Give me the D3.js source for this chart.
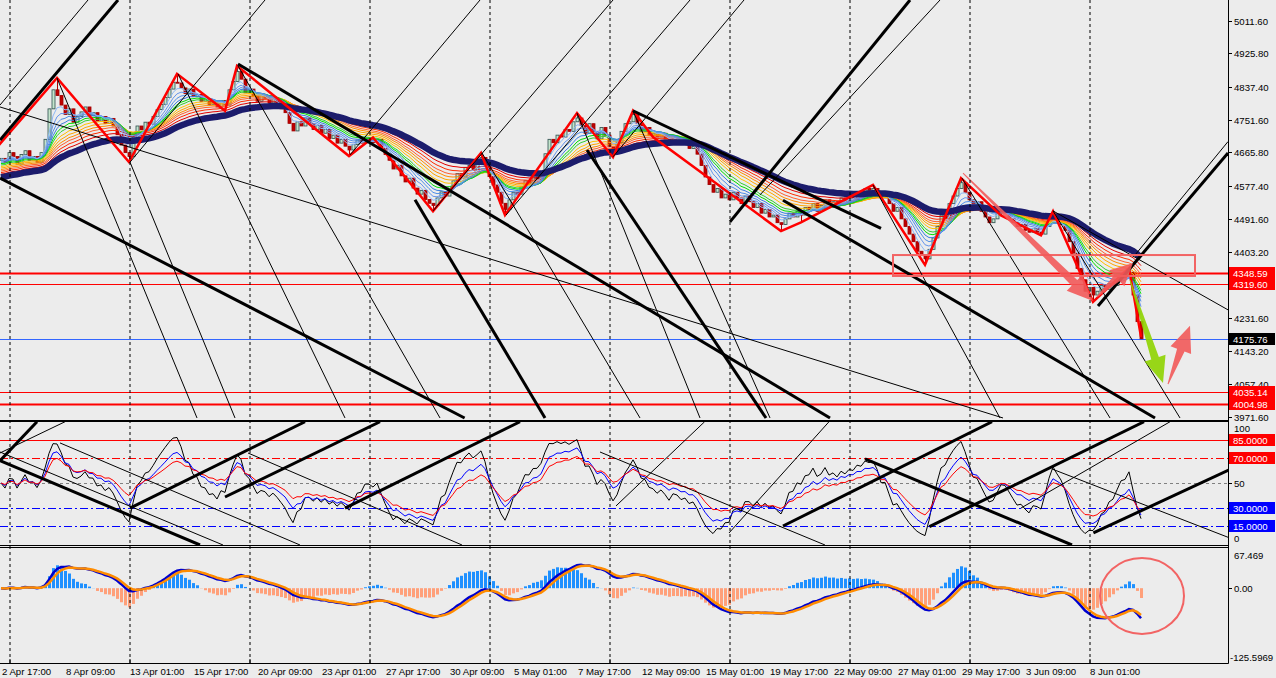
<!DOCTYPE html>
<html>
  <head>
    <meta charset="UTF-8" />
    <title>H4 chart</title>
    <script src="https://cdn.jsdelivr.net/npm/d3@7"></script>
    <style>
      body { margin: 0; background: #ececec; }
      text { font-family: "Liberation Sans", Arial, sans-serif; font-size: 9.6px; }
    </style>
  </head>
  <body>
    <svg id="chart" width="1276" height="678"></svg>
    <script>
      // ---- data ----
      let closes = [
        4650,4640,4665,4655,4635,4660,4670,4645,4655,4640,4665,
        4700,4780,4830,4815,
        4790,4765,4780,4745,4760,4772,4785,4762,4770,4748,4760,4742,4755,4735,4712,4685,4665,4655,
        4705,4735,4725,4745,4740,4760,4778,4792,4810,4832,4850,4848,
        4835,4820,4832,4812,4818,4800,4806,4792,4798,4785,4802,4790,
        4830,4852,4878,4858,4822,4832,4815,4800,4816,4808,4795,4806,4790,
        4780,4770,4742,4722,4746,4735,4756,4741,4726,4736,4716,4726,4702,4711,4690,4700,4682,4672,
        4686,4698,4690,4704,4697,4692,4700,
        4676,4660,4645,4622,4632,4604,4588,4598,4572,4556,4566,4542,4532,4526,
        4546,4562,4551,4576,4591,4610,4601,4626,4631,4621,4642,4652,
        4632,4602,4580,4561,4532,4516,
        4541,4561,4556,4576,4591,4581,4601,4596,4611,4662,4700,4691,4711,4706,4726,4721,4746,4756,
        4736,4716,4741,4721,4701,4731,4711,4681,4666,
        4691,4721,4741,4746,4765,
        4741,4721,4731,4711,4716,
        4706,4716,4701,4691,4706,4696,4686,4691,4676,4681,4661,4631,4601,4581,4561,4571,4546,4556,4541,4561,
        4546,4531,4551,4536,4521,4531,4506,4516,4496,4501,4481,4476,
        4491,4506,4496,4511,4501,4521,4516,4531,4511,4526,4541,4521,4536,4526,4546,4536,4551,4546,4561,4556,4571,4566,4571,
        4561,4546,4556,4531,4511,4521,4491,4471,4451,4431,4406,4396,4386,
        4411,4441,4471,4501,4491,4531,4551,4571,4586,
        4561,4541,4521,4536,4511,4496,4481,4491,4506,4516,
        4506,4491,4481,4471,4476,4461,4456,4466,4456,4451,4471,4491,4501,
        4481,4476,4461,4431,4401,4361,4331,4301,4311,4291,4301,4316,4306,4321,4316,4331,4341,4336,4351,4291,4221,4176
      ];
      let firstOpen = 4645;

      // zigzag pivots [bar, price]
      let zigzag = [
        [-3,4655],[14,4861],[32,4640],[44,4872],[56,4775],[59,4893],[87,4656],[93,4705],
        [108,4511],[120,4664],[126,4501],[144,4769],[153,4653],[158,4775],[163,4706],
        [195,4459],[200,4482],[218,4580],[231,4370],[240,4598],[250,4500],[260,4448],
        [263,4511],[273,4273],[282,4362],[285,4181]
      ];

      let ribbonPeriods = [4,6,8,10,12,14,17,20,23,26,30,35];
      let ribbonColors = ["#8cb8f5","#6495ed","#4f8fe8","#3a7fe0","#00e000","#33cc33",
                          "#ffc000","#ffa500","#ff8c00","#ff6030","#ff2a00","#e00000"];
      let ribbonSeed = [4648,4645,4642,4638,4634,4630,4626,4622,4618,4614,4610,4606];
      let navyPeriod = 45;
      let navySeed = 4598;

      let priceTicks = [5011.6,4925.8,4837.4,4751.6,4665.8,4577.4,4491.6,4403.2,4317.4,4231.6,4143.2,4057.4,3971.6];
      let levelPrices = [4348.59, 4319.60, 4175.76, 4035.14, 4004.98];
      let levelColors = ["#ff0000","#ff0000","#3366ff","#ff0000","#ff0000"];
      let levelWidths = [2, 1, 1, 1, 2];
      let levelBoxes = ["#ff0000","#ff0000","#000000","#ff0000","#ff0000"];

      let timeLabels = ["2 Apr 17:00","8 Apr 09:00","13 Apr 01:00","15 Apr 17:00","20 Apr 09:00",
        "23 Apr 01:00","27 Apr 17:00","30 Apr 09:00","5 May 01:00","7 May 17:00","12 May 09:00",
        "15 May 01:00","19 May 17:00","22 May 09:00","27 May 01:00","29 May 17:00","3 Jun 09:00","8 Jun 01:00"];
      let labelStep = 16;
      let sepBars = [2.125,32.125,62.125,92.125,122.125,152.125,182.125,212.125,242.125,272.125];

      // trend lines in the price window [bar1, price1, bar2, price2, width]
      let mainLines = [
        // thick
        [-0.25,4698,29.25,5066,3],
        [-0.25,4598,115.9,3968,3],
        [59.25,4898,207.25,3968,3],
        [103.5,4541,136,3968,3],
        [146.5,4672,191.25,3968,3],
        [158,4775,220,4466,3],
        [195.5,4540,288.5,3968,3],
        [182.25,4483,227.25,5066,3],
        [274.25,4262,306.75,4664,3],
        // thin descending
        [-0.25,4785,250.5,3968,1],
        [14,4861,49,3968,1],
        [32.25,4640,58.5,3968,1],
        [44.25,4872,86,3968,1],
        [59.25,4893,109.75,3968,1],
        [120.25,4664,159.75,3968,1],
        [144,4769,174.75,3968,1],
        [158,4774,192.25,3968,1],
        [218,4580,249.75,3968,1],
        [240.25,4598,277.25,3968,1],
        [263,4512,294.75,3968,1],
        [263,4512,306.75,4252,1],
        // thin ascending
        [-0.25,4790,21.75,5066,1],
        [32.25,4640,66,5066,1],
        [87.25,4659,119.75,5066,1],
        [108,4512,153,5066,1],
        [126.25,4501,172.25,5066,1],
        [153,4654,185.75,5066,1],
        [189.75,4554,234.75,5066,1],
        [283.5,4396,306.75,4694,1]
      ];

      // rsi window lines [bar1, v1, bar2, v2, width]
      let rsiLines = [
        [-0.25,68,9,99.4,3],[-0.25,74.2,16,99.4,1],[32.25,29.8,76,99.4,3],[56,38.7,94.75,99.4,3],
        [86,29.8,129.75,99.4,3],[195.5,15.3,247.75,99.4,3],[232.1,14.8,285.75,99.4,3],
        [273.1,9.7,307.25,61,3],[-0.25,68,49.75,0,3],[-0.25,75,55.5,0,1],[14.75,82.3,74.75,0,1],
        [61.75,74.2,115.25,0,1],[216,69.4,267.75,0,3],[153.75,31.5,175.9,99.4,1],
        [149.75,75,206,0,1],[262.75,61.3,307.25,5.6,1],[182,9.7,207,99.4,1],[255,29.8,292.25,99.4,1]
      ];

      // arrows [bar1, price1, bar2(tip), price2(tip), colour]
      let arrows = [
        [240.5,4611,273,4275,"#f25a5a"],
        [274,4286,283,4375,"#f25a5a"],
        [282.25,4330,290.5,4060,"#8fd400"],
        [291.75,4057,297.25,4210,"#f25a5a"]
      ];
      let zoneBox = [223, 4396, 298.5, 4341];
      let macdCircle = [285.25, -13];

      let rsiPeriods = [5, 9, 14];
      let rsiSmooth = 3;
      let rsiColors = ["#000000", "#0000ff", "#ff0000"];
      let rsiLevels = [85, 70, 50, 30, 15];
      let rsiLevelColors = ["#ff0000","#ff0000","#808080","#0000ff","#0000ff"];
      let rsiLevelDash = ["none","8,3,2,3","3,3","8,3,2,3","8,3,2,3"];
      let rsiLevelBox = ["#ff0000","#ff0000",null,"#0000ff","#0000ff"];

      let macdFast = 12, macdSlow = 26, macdSignal = 3, osmaSignal = 9, osmaScale = 2;
      let macdRange = [-125.5969, 67.469];

      // ---- layout ----
      let W = 1276, H = 678, plotR = 1228;
      let svg = d3.select("#chart");
      svg.append("rect").attr("width", W).attr("height", H).attr("fill", "#ececec");

      let n = closes.length;
      let x = d3.scaleLinear().domain([0, n - 1]).range([1, 1141]);
      let y = d3.scaleLinear().domain([3971.6, 5011.6]).range([416.6, 20.7]);
      let yr = d3.scaleLinear().domain([0, 100]).range([545, 421]);
      let ym = d3.scaleLinear().domain(macdRange).range([663, 548]);

      let defs = svg.append("defs");
      [["cMain", 0, 420], ["cRsi", 421.5, 124], ["cMacd", 547.5, 116]].forEach(([id, top, h]) => {
        defs.append("clipPath").attr("id", id).append("rect")
          .attr("x", 0).attr("y", top).attr("width", plotR).attr("height", h);
      });

      let gMain = svg.append("g").attr("clip-path", "url(#cMain)");
      let gRsi = svg.append("g").attr("clip-path", "url(#cRsi)");
      let gMacd = svg.append("g").attr("clip-path", "url(#cMacd)");

      // week separators
      sepBars.forEach((b) => {
        svg.append("line").attr("x1", x(b) + 0.5).attr("x2", x(b) + 0.5)
          .attr("y1", 0).attr("y2", 663).attr("stroke", "#000")
          .attr("stroke-dasharray", "3,3").attr("stroke-width", 1);
      });

      // horizontal levels
      levelPrices.forEach((p, i) => {
        gMain.append("line").attr("x1", 0).attr("x2", plotR)
          .attr("y1", Math.round(y(p)) + 0.5).attr("y2", Math.round(y(p)) + 0.5)
          .attr("stroke", levelColors[i]).attr("stroke-width", levelWidths[i]);
      });

      // candles
      let opens = closes.map((c, i) => (i === 0 ? firstOpen : closes[i - 1]));
      let highs = closes.map((c, i) => Math.max(c, opens[i]));
      let lows = closes.map((c, i) => Math.min(c, opens[i]));
      zigzag.forEach(([b, p]) => {
        if (b < 0 || b >= n) return;
        if (p > highs[b]) highs[b] = p;
        if (p < lows[b]) lows[b] = p;
      });
      let candles = gMain.append("g");
      closes.forEach((c, i) => {
        let up = c >= opens[i];
        let cx = Math.round(x(i)) + 0.5;
        candles.append("line").attr("x1", cx).attr("x2", cx)
          .attr("y1", y(highs[i])).attr("y2", y(lows[i]))
          .attr("stroke", up ? "#2f4f4f" : "#b00000");
        let top = y(Math.max(c, opens[i])), bot = y(Math.min(c, opens[i]));
        candles.append("rect").attr("x", cx - 1.5).attr("y", top)
          .attr("width", 3).attr("height", Math.max(1, bot - top))
          .attr("fill", up ? "#c4e4cc" : "#c00000")
          .attr("stroke", up ? "#2f4f4f" : "#a00000").attr("stroke-width", 0.8);
      });

      // moving average ribbon
      function ema(src, period, seed) {
        let k = 2 / (period + 1), v = seed;
        return src.map((c) => (v = v + k * (c - v)));
      }
      let maLine = d3.line().x((d, i) => x(i)).y((d) => y(d));
      ribbonPeriods.slice().reverse().forEach((p, j) => {
        let i = ribbonPeriods.length - 1 - j;
        gMain.append("path").datum(ema(closes, p, ribbonSeed[i]))
          .attr("fill", "none").attr("stroke", ribbonColors[i]).attr("stroke-width", 1)
          .attr("d", maLine);
      });
      gMain.append("path").datum(ema(closes, navyPeriod, navySeed))
        .attr("fill", "none").attr("stroke", "#1c1c6c").attr("stroke-width", 6.5)
        .attr("d", maLine);

      // zigzag
      gMain.append("path").datum(zigzag).attr("fill", "none")
        .attr("stroke", "#ff0000").attr("stroke-width", 2.5)
        .attr("d", d3.line().x((d) => x(d[0])).y((d) => y(d[1])));

      // trend lines
      mainLines.forEach(([b1, p1, b2, p2, w]) => {
        gMain.append("line").attr("x1", x(b1)).attr("y1", y(p1))
          .attr("x2", x(b2)).attr("y2", y(p2)).attr("stroke", "#000").attr("stroke-width", w);
      });

      // zone rectangle
      gMain.append("rect").attr("x", x(zoneBox[0])).attr("y", y(zoneBox[1]))
        .attr("width", x(zoneBox[2]) - x(zoneBox[0])).attr("height", y(zoneBox[3]) - y(zoneBox[1]))
        .attr("fill", "none").attr("stroke", "#f26464").attr("stroke-width", 2);

      // arrows
      arrows.forEach(([b1, p1, b2, p2, col]) => {
        let x1 = x(b1), y1 = y(p1), x2 = x(b2), y2 = y(p2);
        let dx = x2 - x1, dy = y2 - y1, len = Math.hypot(dx, dy);
        let ux = dx / len, uy = dy / len, nx = -uy, ny = ux;
        let head = Math.min(26, len * 0.45), hw = 11, sw = 4;
        let bx = x2 - ux * head, by = y2 - uy * head;
        let pts = [
          [x1 + nx * 0.5, y1 + ny * 0.5], [bx + nx * sw, by + ny * sw], [bx + nx * hw, by + ny * hw],
          [x2, y2], [bx - nx * hw, by - ny * hw], [bx - nx * sw, by - ny * sw], [x1 - nx * 0.5, y1 - ny * 0.5]
        ];
        gMain.append("path").attr("d", "M" + pts.map((p) => p.join(",")).join("L") + "Z")
          .attr("fill", col).attr("opacity", 0.9);
      });

      // ---- RSI window ----
      function rsi(src, period) {
        let ag = 8, al = 8;
        return src.map((c, i) => {
          let ch = i === 0 ? 0 : c - src[i - 1];
          ag = (ag * (period - 1) + Math.max(ch, 0)) / period;
          al = (al * (period - 1) + Math.max(-ch, 0)) / period;
          return 100 - 100 / (1 + ag / al);
        });
      }
      rsiLevels.forEach((v, i) => {
        gRsi.append("line").attr("x1", 0).attr("x2", plotR)
          .attr("y1", Math.round(yr(v)) + 0.5).attr("y2", Math.round(yr(v)) + 0.5)
          .attr("stroke", rsiLevelColors[i]).attr("stroke-dasharray", rsiLevelDash[i]);
      });
      let rLine = d3.line().x((d, i) => x(i)).y((d) => yr(d));
      rsiPeriods.forEach((p, i) => {
        let r = rsi(closes, p);
        gRsi.append("path").datum(ema(r, rsiSmooth, r[0])).attr("fill", "none")
          .attr("stroke", rsiColors[i]).attr("stroke-width", 1).attr("d", rLine);
      });
      rsiLines.forEach(([b1, v1, b2, v2, w]) => {
        gRsi.append("line").attr("x1", x(b1)).attr("y1", yr(v1))
          .attr("x2", x(b2)).attr("y2", yr(v2)).attr("stroke", "#000").attr("stroke-width", w);
      });

      // ---- MACD window ----
      let ef = ema(closes, macdFast, closes[0]);
      let es = ema(closes, macdSlow, closes[0]);
      let macd = ef.map((v, i) => v - es[i]);
      let signal = ema(macd, macdSignal, 0);
      let slowSig = ema(macd, osmaSignal, 0);
      let hist = macd.map((v, i) => (v - slowSig[i]) * osmaScale);
      hist.forEach((h, i) => {
        gMacd.append("rect").attr("x", Math.round(x(i)) - 1).attr("width", 3)
          .attr("y", Math.min(ym(0), ym(h))).attr("height", Math.abs(ym(h) - ym(0)))
          .attr("fill", h >= 0 ? "#1e90ff" : "#ffa07a");
      });
      let mLine = d3.line().x((d, i) => x(i)).y((d) => ym(d));
      gMacd.append("path").datum(macd).attr("fill", "none").attr("stroke", "#0000cd")
        .attr("stroke-width", 2.5).attr("d", mLine);
      gMacd.append("path").datum(signal).attr("fill", "none").attr("stroke", "#ff8c00")
        .attr("stroke-width", 2.5).attr("d", mLine);
      gMacd.append("ellipse").attr("cx", x(macdCircle[0])).attr("cy", ym(macdCircle[1]))
        .attr("rx", 42).attr("ry", 38).attr("fill", "none")
        .attr("stroke", "#f26464").attr("stroke-width", 2);

      // ---- frames ----
      let frame = svg.append("g").attr("fill", "none").attr("stroke", "#000");
      frame.append("line").attr("x1", plotR + 0.5).attr("x2", plotR + 0.5).attr("y1", 0).attr("y2", 663.5);
      [420.5, 421.5, 545.5, 547.5, 663.5].forEach((yy) => {
        frame.append("line").attr("x1", 0).attr("x2", plotR + 0.5).attr("y1", yy).attr("y2", yy);
      });

      // ---- right axis ----
      let ax = svg.append("g");
      priceTicks.forEach((p) => {
        let ty = Math.round(y(p)) + 0.5;
        ax.append("line").attr("x1", plotR).attr("x2", plotR + 4).attr("y1", ty).attr("y2", ty).attr("stroke", "#000");
        ax.append("text").attr("x", plotR + 6).attr("y", ty + 3.5).text(p.toFixed(2));
      });
      levelPrices.forEach((p, i) => {
        let ty = Math.round(y(p));
        ax.append("rect").attr("x", plotR + 1).attr("y", ty - 6).attr("width", 46).attr("height", 12)
          .attr("fill", levelBoxes[i]);
        ax.append("text").attr("x", plotR + 5).attr("y", ty + 3.5).attr("fill", "#fff").text(p.toFixed(2));
      });
      ax.append("text").attr("x", plotR + 6).attr("y", 432).text("100");
      ax.append("text").attr("x", plotR + 6).attr("y", 542).text("0");
      rsiLevels.forEach((v, i) => {
        let ty = Math.round(yr(v));
        if (rsiLevelBox[i]) {
          ax.append("rect").attr("x", plotR + 1).attr("y", ty - 6).attr("width", 46).attr("height", 12)
            .attr("fill", rsiLevelBox[i]);
          ax.append("text").attr("x", plotR + 5).attr("y", ty + 3.5).attr("fill", "#fff").text(v.toFixed(4));
        } else {
          ax.append("line").attr("x1", plotR).attr("x2", plotR + 4).attr("y1", ty + 0.5).attr("y2", ty + 0.5).attr("stroke", "#000");
          ax.append("text").attr("x", plotR + 6).attr("y", ty + 3.5).text(v);
        }
      });
      ax.append("text").attr("x", plotR + 6).attr("y", 559).text(macdRange[1].toFixed(3));
      ax.append("line").attr("x1", plotR).attr("x2", plotR + 4).attr("y1", Math.round(ym(0)) + 0.5)
        .attr("y2", Math.round(ym(0)) + 0.5).attr("stroke", "#000");
      ax.append("text").attr("x", plotR + 6).attr("y", Math.round(ym(0)) + 3.5).text("0.00");
      ax.append("text").attr("x", plotR + 2).attr("y", 661).text(macdRange[0].toFixed(4));

      // ---- time axis ----
      sepBars.forEach((b) => {
        ax.append("line").attr("x1", x(b) + 0.5).attr("x2", x(b) + 0.5).attr("y1", 659).attr("y2", 663)
          .attr("stroke", "#000");
      });
      timeLabels.forEach((t, k) => {
        ax.append("text").attr("x", x(k * labelStep) + 1).attr("y", 675).text(t);
      });
    </script>
  </body>
</html>
